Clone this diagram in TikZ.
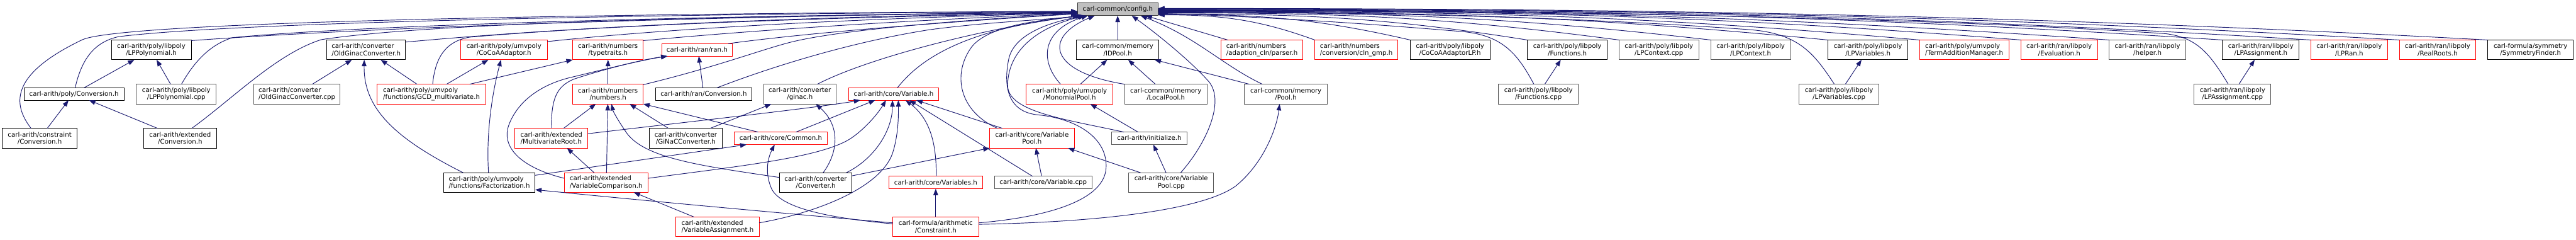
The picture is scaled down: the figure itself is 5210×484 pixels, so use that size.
\documentclass[tikz,border=0pt]{standalone}
\usepackage{fontspec}
\setmainfont{DejaVu Sans}
\usetikzlibrary{arrows.meta}
\definecolor{edgec}{HTML}{191970}
\definecolor{grayb}{HTML}{555555}
\definecolor{rootf}{HTML}{BFBFBF}
\newcommand\nd[7]{\node[#6,minimum width=#4pt,minimum height=#5pt] (#1) at (#2,#3) {#7};}
\begin{document}
\begin{tikzpicture}[x=1pt,y=-1pt,
 box/.style={rectangle,line width=1.3pt,fill=white,inner sep=0pt,outer sep=0pt,align=center,font=\fontsize{13}{14.5}\selectfont},
 nb/.style={box,draw=black},
 nr/.style={box,draw=red},
 ng/.style={box,draw=grayb},
 lft/.style={align=left},
 root/.style={box,draw=black!80,fill=rootf},
 lnk/.style={draw=edgec,line width=1.2pt,-{Triangle[length=13pt,width=9.5pt]}}]
\fill[white] (0,0) rectangle (5210,484);
\useasboundingbox (0,0) rectangle (5210,484);
% root
\nd{cfg}{2260.8}{18.85}{163}{25.7}{root}{carl-common/config.h}
% row 1
\nd{lppolyh}{306}{100.7}{161.4}{40}{nb}{carl-arith/poly/libpoly\\/LPPolynomial.h}
\nd{oldginach}{740.5}{100.7}{159.6}{40}{nb,lft}{carl-arith/converter\\/OldGinacConverter.h}
\nd{cocoa}{1019.2}{100.7}{175}{40}{nr}{carl-arith/poly/umvpoly\\/CoCoAAdaptor.h}
\nd{typetraits}{1229.7}{100.7}{142.7}{40}{nr}{carl-arith/numbers\\/typetraits.h}
\nd{ranh}{1409.9}{100.7}{142.3}{25.3}{nr}{carl-arith/ran/ran.h}
\nd{idpool}{2260.5}{100.7}{167}{40}{nb}{carl-common/memory\\/IDPool.h}
\nd{parser}{2552.3}{100.7}{166}{40}{nr,lft}{carl-arith/numbers\\/adaption\_cln/parser.h}
\nd{clngmp}{2743.2}{100.7}{168.3}{40}{nr,lft}{carl-arith/numbers\\/conversion/cln\_gmp.h}
\nd{cocoalp}{2932.7}{100.7}{161.3}{40}{nb}{carl-arith/poly/libpoly\\/CoCoAAdaptorLP.h}
\nd{functionsh}{3169.9}{100.7}{161.7}{40}{nb}{carl-arith/poly/libpoly\\/Functions.h}
\nd{lpcontextcpp}{3355.2}{100.7}{161.7}{40}{ng}{carl-arith/poly/libpoly\\/LPContext.cpp}
\nd{lpcontexth}{3540.7}{100.7}{161.3}{40}{ng}{carl-arith/poly/libpoly\\/LPContext.h}
\nd{lpvarsh}{3777.9}{100.7}{161.7}{40}{nb}{carl-arith/poly/libpoly\\/LPVariables.h}
\nd{termadd}{3972.5}{100.7}{180.4}{40}{nr,lft}{carl-arith/poly/umvpoly\\/TermAdditionManager.h}
\nd{evaluation}{4164.7}{100.7}{154.7}{40}{nr}{carl-arith/ran/libpoly\\/Evaluation.h}
\nd{helper}{4343.2}{100.7}{155}{40}{ng}{carl-arith/ran/libpoly\\/helper.h}
\nd{lpassignh}{4572.5}{100.7}{155}{40}{nb}{carl-arith/ran/libpoly\\/LPAssignment.h}
\nd{lpran}{4751.2}{100.7}{155}{40}{nr}{carl-arith/ran/libpoly\\/LPRan.h}
\nd{realroots}{4930}{100.7}{154.6}{40}{nr}{carl-arith/ran/libpoly\\/RealRoots.h}
\nd{symmetry}{5118}{100.7}{173.4}{40}{nb}{carl-formula/symmetry\\/SymmetryFinder.h}
% row 2
\nd{polyconv}{149.7}{189.8}{202.7}{25}{nb}{carl-arith/poly/Conversion.h}
\nd{lppolycpp}{356.5}{190}{161.6}{40}{ng}{carl-arith/poly/libpoly\\/LPPolynomial.cpp}
\nd{oldginaccpp}{600.5}{190}{175}{40}{ng,lft}{carl-arith/converter\\/OldGinacConverter.cpp}
\nd{gcd}{872.7}{190}{219.3}{40}{nr,lft}{carl-arith/poly/umvpoly\\/functions/GCD\_multivariate.h}
\nd{numbers}{1229.7}{190}{142.7}{40}{nr}{carl-arith/numbers\\/numbers.h}
\nd{ranconv}{1423.2}{189.8}{195}{25}{nb}{carl-arith/ran/Conversion.h}
\nd{ginac}{1617.7}{190}{146.7}{40}{ng}{carl-arith/converter\\/ginac.h}
\nd{variable}{1807.4}{189.8}{182.7}{25}{nr}{carl-arith/core/Variable.h}
\nd{monopool}{2163.2}{190}{175}{40}{nr}{carl-arith/poly/umvpoly\\/MonomialPool.h}
\nd{localpool}{2357.8}{190}{167}{40}{ng}{carl-common/memory\\/LocalPool.h}
\nd{pool}{2600.7}{190}{167.3}{40}{ng}{carl-common/memory\\/Pool.h}
\nd{functionscpp}{3111.5}{190}{161.6}{40}{ng}{carl-arith/poly/libpoly\\/Functions.cpp}
\nd{lpvarscpp}{3719.4}{190}{161.3}{40}{ng}{carl-arith/poly/libpoly\\/LPVariables.cpp}
\nd{lpassigncpp}{4515.2}{190}{155}{40}{ng}{carl-arith/ran/libpoly\\/LPAssignment.cpp}
% row 3
\nd{constrconv}{80.3}{279}{151.3}{40}{nb}{carl-arith/constraint\\/Conversion.h}
\nd{extconv}{364.3}{279}{146.7}{40}{nb}{carl-arith/extended\\/Conversion.h}
\nd{multiroot}{1115.2}{279}{147}{40}{nr,lft}{carl-arith/extended\\/MultivariateRoot.h}
\nd{ginacconv}{1387}{279}{146.6}{40}{nb}{carl-arith/converter\\/GiNaCConverter.h}
\nd{common}{1579.2}{279.3}{188.3}{25.3}{nr}{carl-arith/core/Common.h}
\nd{varpool}{2087.2}{279}{171}{40}{nr}{carl-arith/core/Variable\\Pool.h}
\nd{initialize}{2324.5}{279.3}{153.6}{25.3}{ng}{carl-arith/initialize.h}
% row 4
\nd{factor}{989.7}{368.5}{185.3}{39.6}{nb,lft}{carl-arith/poly/umvpoly\\/functions/Factorization.h}
\nd{varcomp}{1225.9}{368.5}{169.7}{39.6}{nr,lft}{carl-arith/extended\\/VariableComparison.h}
\nd{converter}{1649.8}{368.5}{147}{39.6}{nb}{carl-arith/converter\\/Converter.h}
\nd{variables}{1892.5}{368.5}{189.6}{25}{nr}{carl-arith/core/Variables.h}
\nd{varcpp}{2109.9}{368.5}{197.7}{25}{ng}{carl-arith/core/Variable.cpp}
\nd{varpoolcpp}{2368.7}{368.5}{171.3}{39.6}{ng}{carl-arith/core/Variable\\Pool.cpp}
% row 5
\nd{varassign}{1451.3}{458}{168}{40}{nr,lft}{carl-arith/extended\\/VariableAssignment.h}
\nd{constraint}{1892.5}{458}{173.6}{40}{nr}{carl-formula/arithmetic\\/Constraint.h}

% ---- edges into config.h from the left
\draw[lnk] ([xshift=-17.6pt]constrconv.north) .. controls (25,210) and (20,150) .. (167,80) .. controls (260,40) and (1400,26) .. ([yshift=-4pt]cfg.west);
\draw[lnk] ([xshift=2.3pt]polyconv.north) .. controls (165,120) and (190,85) .. (240,74) .. controls (500,42) and (1450,27) .. ([yshift=-4.5pt]cfg.west);
\draw[lnk] ([yshift=18.7pt]lppolyh.east) .. controls (900,45) and (1700,30) .. ([yshift=-5pt]cfg.west);
\draw[lnk] ([xshift=10.5pt]lppolycpp.north) .. controls (390,130) and (420,92) .. (470,76) .. controls (800,45) and (1600,30) .. ([yshift=-5.5pt]cfg.west);
\draw[lnk] ([xshift=23.7pt]extconv.north) .. controls (470,200) and (560,108) .. (650,80) .. controls (900,42) and (1600,31) .. ([yshift=-6pt]cfg.west);
\draw[lnk] ([yshift=15.7pt]oldginach.east) .. controls (1200,50) and (1700,32) .. ([yshift=-6.5pt]cfg.west);
\draw[lnk] ([xshift=2.3pt]gcd.north) .. controls (880,120) and (898,84) .. (950,75) .. controls (1300,45) and (1800,33) .. ([yshift=-7pt]cfg.west);
\draw[lnk] ([yshift=16.7pt]cocoa.east) .. controls (1400,52) and (1850,34) .. ([yshift=-7.5pt]cfg.west);
\draw[lnk] ([yshift=18.7pt]typetraits.east) .. controls (1600,54) and (1950,36) .. ([yshift=-8pt]cfg.west);
\draw[lnk] ([yshift=19pt]numbers.east) .. controls (1450,135) and (1540,100) .. (1600,85) .. controls (1700,60) and (1950,40) .. ([yshift=-8.5pt]cfg.west);
\draw[lnk] ([xshift=63.1pt]ranh.north) .. controls (1650,64) and (1950,42) .. ([yshift=-9pt]cfg.west);
% ---- edges into config.h from below-left
\draw[lnk] ([xshift=26.8pt]ranconv.north) .. controls (1560,135) and (1720,85) .. (1880,60) .. controls (2000,44) and (2120,40) .. ([xshift=-77.8pt]cfg.south);
\draw[lnk] ([xshift=35.3pt]ginac.north) .. controls (1760,115) and (2000,55) .. ([xshift=-74.8pt]cfg.south);
\draw[lnk] ([xshift=7.6pt]variable.north) .. controls (1860,120) and (1950,58) .. ([xshift=-71.8pt]cfg.south);
\draw[lnk] ([xshift=-70pt]varpool.north) .. controls (1940,225) and (1925,150) .. (1965,95) .. controls (2000,50) and (2110,40) .. ([xshift=-68.8pt]cfg.south);
\draw[lnk] ([xshift=-51.5pt]initialize.north) .. controls (2150,240) and (2035,225) .. (2038,170) .. controls (2040,100) and (2100,55) .. ([xshift=-66.8pt]cfg.south);
\draw[lnk] ([yshift=8pt]constraint.east) .. controls (2100,440) and (2232,410) .. (2237,340) .. controls (2241,280) and (2180,240) .. (2100,232) .. controls (2035,226) and (2030,170) .. (2040,120) .. controls (2050,70) and (2120,45) .. ([xshift=-64.8pt]cfg.south);
\draw[lnk] ([xshift=-18.2pt]monopool.north) .. controls (2100,120) and (2110,60) .. ([xshift=-60.8pt]cfg.south);
\draw[lnk] (localpool.north west) .. controls (2120,145) and (2110,75) .. ([xshift=-46.8pt]cfg.south);
\draw[lnk] (idpool.north) -- (idpool.north |- cfg.south);
\draw[lnk] ([xshift=19.3pt]varpoolcpp.north) .. controls (2440,290) and (2478,205) .. (2445,165) .. controls (2410,125) and (2340,68) .. ([xshift=28.2pt]cfg.south);
\draw[lnk] ([xshift=-47.7pt]pool.north) .. controls (2470,130) and (2420,75) .. ([xshift=46.2pt]cfg.south);
\draw[lnk] ([xshift=-69.3pt]parser.north) -- ([xshift=56.2pt]cfg.south);
% ---- edges into config.h from the right
\draw[lnk] (clngmp.north west) .. controls (2543,38.5) and (2466,30) .. ([yshift=-11.15pt]cfg.east);
\draw[lnk] (cocoalp.north west) .. controls (2658,36) and (2541,29) .. ([yshift=-10.15pt]cfg.east);
\draw[lnk] (functionsh.north west) .. controls (2802,35.2) and (2633,28) .. ([yshift=-9.15pt]cfg.east);
\draw[lnk] ([xshift=-9.2pt]functionscpp.north) .. controls (3070,110) and (3040,72) .. (2960,64) .. controls (2700,42) and (2500,32) .. ([yshift=-8.15pt]cfg.east);
\draw[lnk] (lpcontextcpp.north west) .. controls (2914,33.3) and (2706,26) .. ([yshift=-7.15pt]cfg.east);
\draw[lnk] (lpcontexth.north west) .. controls (3027,31.3) and (2778,25) .. ([yshift=-6.15pt]cfg.east);
\draw[lnk] (lpvarsh.north west) .. controls (3171,30.1) and (2870,24) .. ([yshift=-5.15pt]cfg.east);
\draw[lnk] ([xshift=-9.4pt]lpvarscpp.north) .. controls (3670,110) and (3640,68) .. (3540,60) .. controls (3200,35) and (2800,25) .. ([yshift=-4.65pt]cfg.east);
\draw[lnk] (termadd.north west) .. controls (3284,28.4) and (2943,23) .. ([yshift=-4.15pt]cfg.east);
\draw[lnk] (evaluation.north west) .. controls (3409,27.3) and (3000,22) .. ([yshift=-3.15pt]cfg.east);
\draw[lnk] (helper.north west) .. controls (3517,28.4) and (3050,21) .. ([yshift=-2.15pt]cfg.east);
\draw[lnk] (lpassignh.north west) .. controls (3657,26.5) and (3100,20) .. ([yshift=-1.15pt]cfg.east);
\draw[lnk] ([xshift=-8.5pt]lpassigncpp.north) .. controls (4470,110) and (4445,76) .. (4380,68) .. controls (3800,30) and (3000,22) .. ([yshift=-0.65pt]cfg.east);
\draw[lnk] (lpran.north west) .. controls (3766,25.2) and (3120,19) .. ([yshift=-0.15pt]cfg.east);
\draw[lnk] (realroots.north west) .. controls (3875,24.3) and (3140,18) .. ([yshift=0.85pt]cfg.east);
\draw[lnk] (symmetry.north west) .. controls (3984,24) and (3150,17) .. ([yshift=1.85pt]cfg.east);

% ---- other edges
\draw[lnk] ([xshift=20.3pt]polyconv.north) -- ([xshift=-34.3pt]lppolyh.south);
\draw[lnk] ([xshift=-11.5pt]lppolycpp.north) -- ([xshift=10.7pt]lppolyh.south);
\draw[lnk] ([xshift=15.4pt]constrconv.north) -- ([xshift=-11pt]polyconv.south);
\draw[lnk] ([xshift=-46pt]extconv.north) -- ([xshift=30.3pt]polyconv.south);
\draw[lnk] ([xshift=31.2pt]oldginaccpp.north) -- ([xshift=-28.8pt]oldginach.south);
\draw[lnk] ([xshift=-53pt]factor.north) .. controls (800,280) and (735,220) .. ([xshift=-3.8pt]oldginach.south);
\draw[lnk] ([xshift=-29.4pt]gcd.north) -- ([xshift=29.5pt]oldginach.south);
\draw[lnk] ([xshift=30.6pt]gcd.north) -- ([xshift=-31.5pt]cocoa.south);
\draw[lnk] ([xshift=77.3pt]gcd.north) -- (typetraits.south west);
\draw[lnk] ([xshift=-1.7pt]factor.north) .. controls (983,270) and (995,190) .. ([xshift=-6pt]cocoa.south);
\draw[lnk] (numbers.north) -- (typetraits.south);
\draw[lnk] ([xshift=24.8pt]multiroot.north) -- ([xshift=-24.7pt]numbers.south);
\draw[lnk] ([xshift=0.8pt]varcomp.north) -- ([xshift=-0.4pt]numbers.south);
\draw[lnk] ([yshift=10.2pt]converter.west) .. controls (1420,335) and (1300,320) .. (1265,265) .. controls (1250,243) and (1240,225) .. ([xshift=7pt]numbers.south);
\draw[lnk] ([xshift=-35.3pt]ginacconv.north) -- ([xshift=43.6pt]numbers.south);
\draw[lnk] ([xshift=-45.9pt]common.north) -- (numbers.south east);
\draw[lnk] ([xshift=-1.5pt]ranconv.north) -- ([xshift=3.4pt]ranh.south);
\draw[lnk] (multiroot.north) .. controls (1115,200) and (1125,175) .. (1160,160) .. controls (1220,140) and (1300,120) .. ([xshift=-59.9pt]ranh.south);
\draw[lnk] ([yshift=8.5pt]varcomp.west) .. controls (1060,340) and (1010,300) .. (1030,250) .. controls (1050,200) and (1100,168) .. (1160,155) .. controls (1230,138) and (1300,121) .. ([xshift=-59.9pt]ranh.south);
\draw[lnk] ([yshift=9pt]multiroot.east) .. controls (1400,245) and (1650,218) .. ([xshift=-67.4pt]variable.south);
\draw[lnk] ([yshift=8.5pt]varcomp.east) .. controls (1500,335) and (1660,318) .. (1720,280) .. controls (1750,260) and (1775,230) .. ([xshift=-15.4pt]variable.south);
\draw[lnk] ([xshift=-24.2pt]varcomp.north) -- ([xshift=31.5pt]multiroot.south);
\draw[lnk] ([xshift=-48pt]varassign.north) -- ([xshift=55.8pt]varcomp.south);
\draw[lnk] ([yshift=14.5pt]factor.east) -- ([xshift=-69.2pt]common.south);
\draw[lnk] ([yshift=8pt]constraint.west) .. controls (1600,432) and (1300,405) .. ([yshift=-14.5pt]factor.east);
\draw[lnk] ([yshift=6pt]constraint.west) .. controls (1700,442) and (1580,425) .. (1560,380) .. controls (1545,345) and (1555,315) .. ([xshift=-12.5pt]common.south);
\draw[lnk] ([yshift=8pt]varassign.east) .. controls (1650,430) and (1780,380) .. (1805,310) .. controls (1818,270) and (1817,230) .. ([xshift=9.6pt]variable.south);
\draw[lnk] ([xshift=61.9pt]converter.north) .. controls (1770,320) and (1805,262) .. ([xshift=-2.4pt]variable.south);
\draw[lnk] ([yshift=13.5pt]converter.east) -- (varpool.south west);
\draw[lnk] ([xshift=15.2pt]converter.north) .. controls (1700,300) and (1695,250) .. ([xshift=32.3pt]ginac.south);
\draw[lnk] ([xshift=49.7pt]ginacconv.north) -- ([xshift=-57.7pt]ginac.south);
\draw[lnk] ([xshift=30.8pt]common.north) -- ([xshift=-37.4pt]variable.south);
\draw[lnk] ([xshift=0.8pt]variables.north) .. controls (1895,280) and (1875,235) .. ([xshift=24pt]variable.south);
\draw[lnk] ([xshift=-21.6pt]varcpp.north) -- ([xshift=32pt]variable.south);
\draw[lnk] ([xshift=-60.2pt]varpool.north) -- ([xshift=45.6pt]variable.south);
\draw[lnk] ([xshift=-3.2pt]varcpp.north) -- ([xshift=7.8pt]varpool.south);
\draw[lnk] (constraint.north) -- (variables.south);
\draw[lnk] ([xshift=-62pt]varpoolcpp.north) -- ([xshift=72.8pt]varpool.south);
\draw[lnk] ([xshift=-10.4pt]varpoolcpp.north) -- ([xshift=8.2pt]initialize.south);
\draw[lnk] ([xshift=-22.8pt]initialize.north) -- ([xshift=41.8pt]monopool.south);
\draw[lnk] ([xshift=21.8pt]monopool.north) -- ([xshift=-21.2pt]idpool.south);
\draw[lnk] ([xshift=-21.1pt]localpool.north) -- ([xshift=21.2pt]idpool.south);
\draw[lnk] ([xshift=-74pt]pool.north) -- ([xshift=74.5pt]idpool.south);
\draw[lnk] ([yshift=5pt]constraint.east) .. controls (2250,448) and (2440,420) .. (2500,375) .. controls (2555,330) and (2582,260) .. ([xshift=-12.7pt]pool.south);
\draw[lnk] ([xshift=12.8pt]functionscpp.north) -- ([xshift=-13.2pt]functionsh.south);
\draw[lnk] ([xshift=12.9pt]lpvarscpp.north) -- ([xshift=-12.9pt]lpvarsh.south);
\draw[lnk] ([xshift=13.1pt]lpassigncpp.north) -- ([xshift=-12.5pt]lpassignh.south);
\end{tikzpicture}
\end{document}
